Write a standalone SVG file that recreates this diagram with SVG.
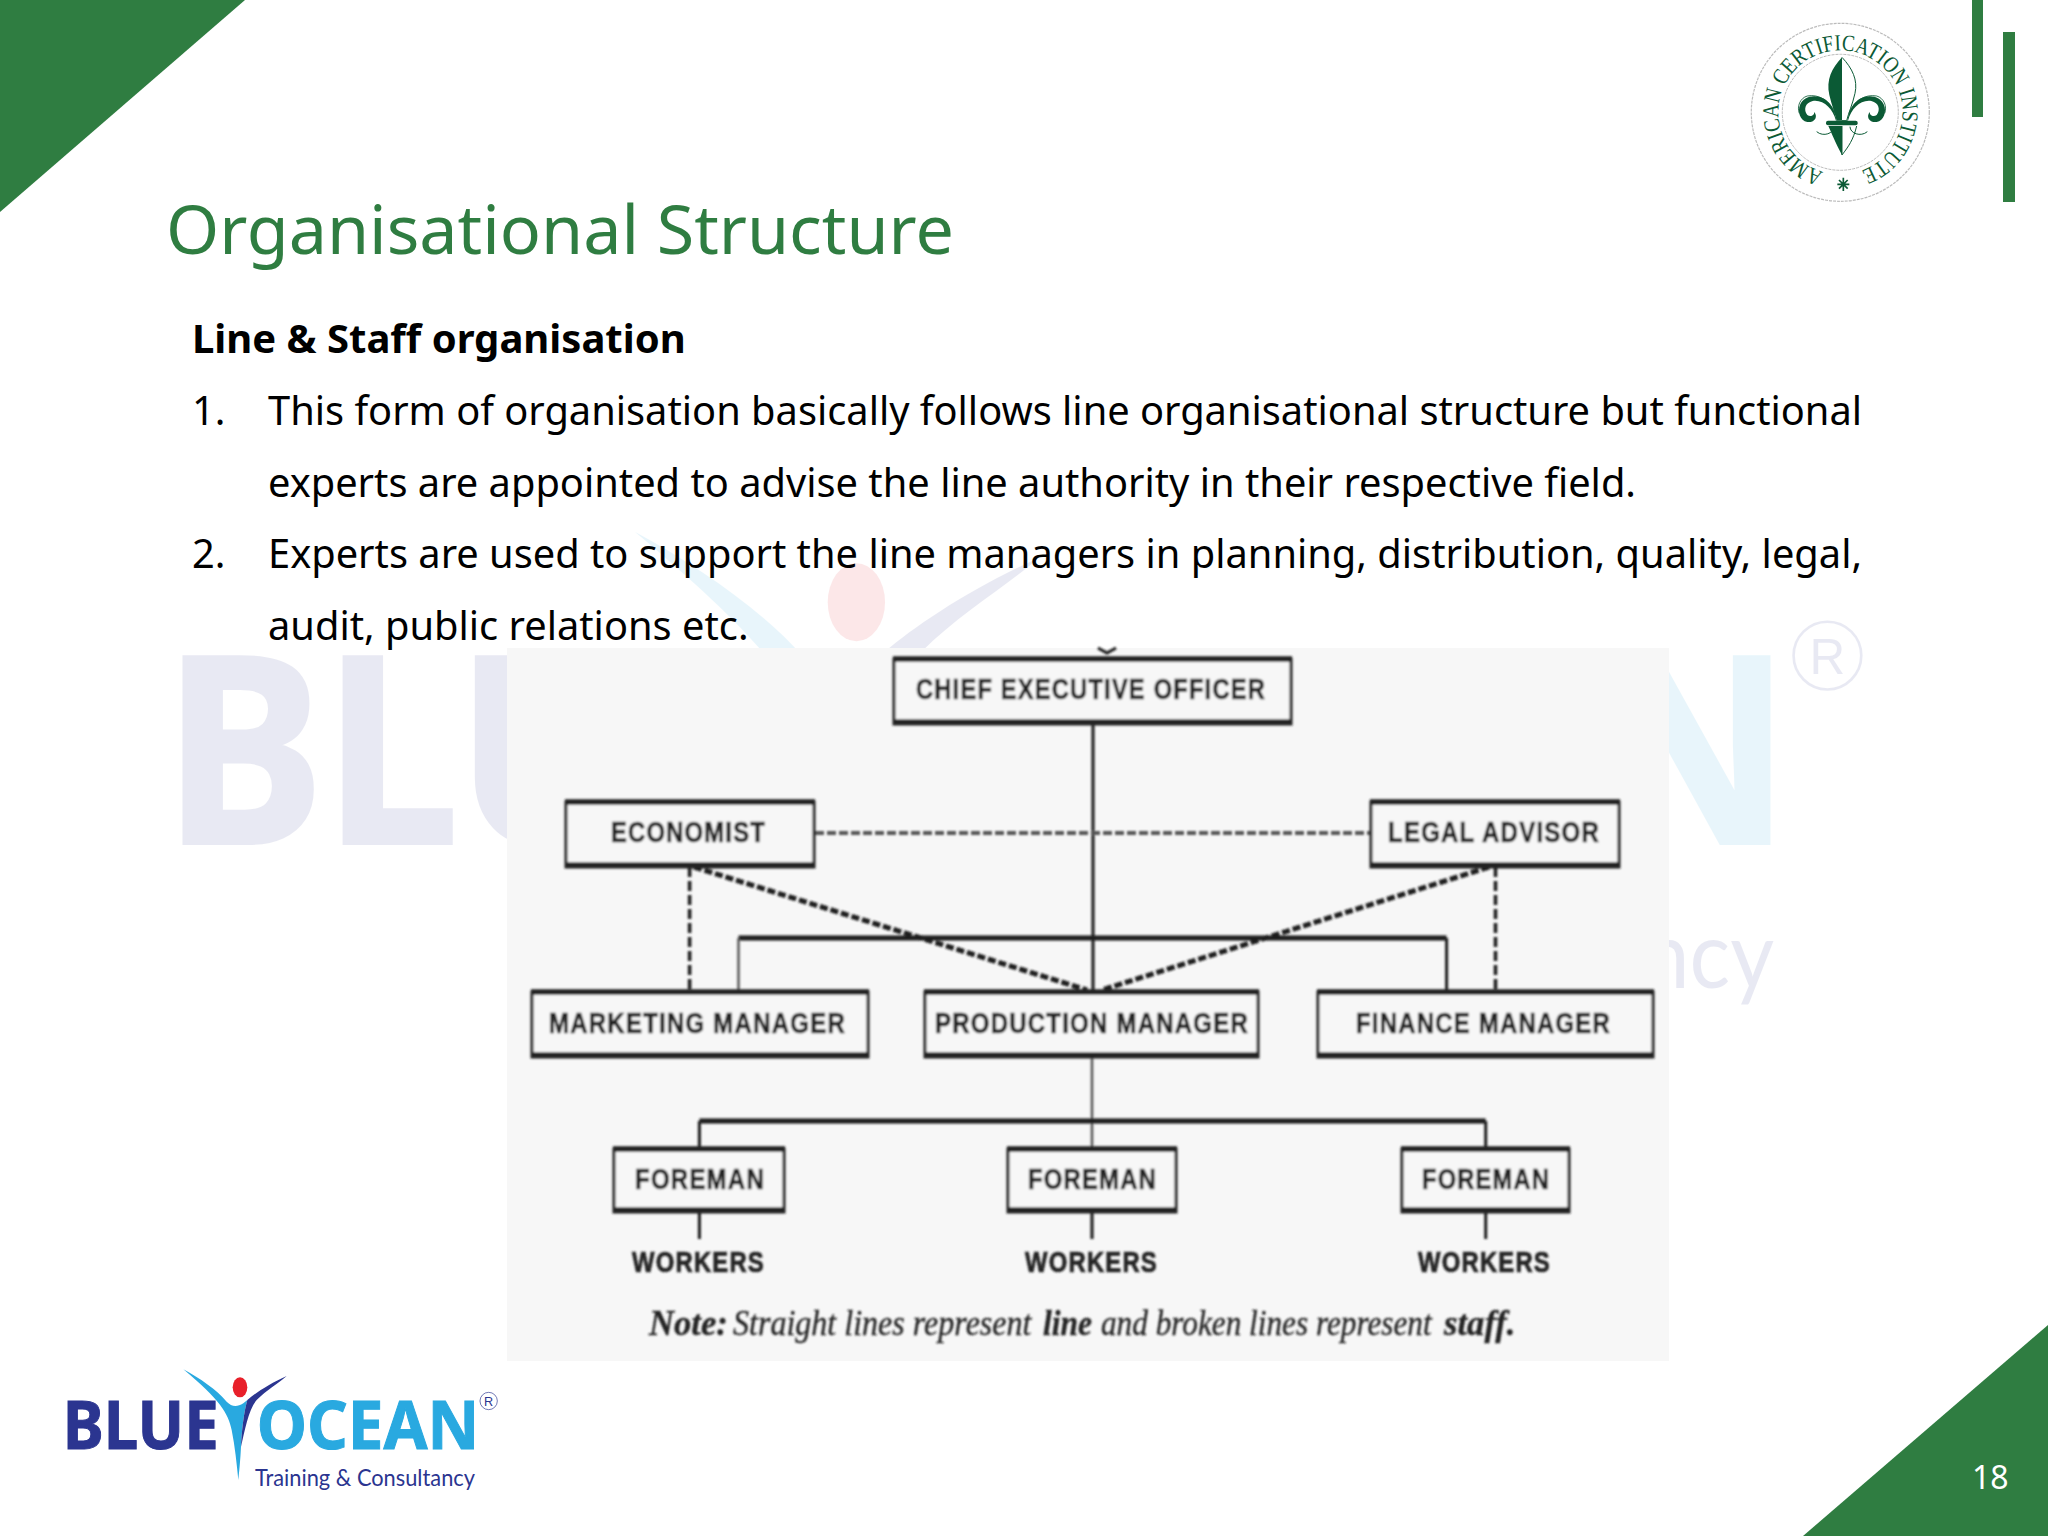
<svg xmlns="http://www.w3.org/2000/svg" xmlns:xlink="http://www.w3.org/1999/xlink" width="2048" height="1536" viewBox="0 0 2048 1536">
<style>
.g{fill:#2f7d41}
.title{font:400 68.2px "Noto Sans",sans-serif;fill:#2f7d41}
.body{font:400 39.8px "Noto Sans",sans-serif;fill:#000}
.b{font-weight:700;font-size:40px}
.box{fill:#f7f7f7;stroke:#222;stroke-width:3}
.thick{stroke:#222;stroke-width:5.5;fill:none}
.ln{stroke:#1c1c1c;stroke-width:3;fill:none}
.lng{stroke:#555;stroke-width:2.5;fill:none}
.lnw{stroke:#1c1c1c;stroke-width:5;fill:none}
.dash{stroke:#1c1c1c;stroke-width:3.5;fill:none;stroke-dasharray:10 4}
.dashd{stroke:#1c1c1c;stroke-width:5;fill:none;stroke-dasharray:8 3}
.dashh{stroke:#555;stroke-width:4;fill:none;stroke-dasharray:9 3}
.lab{font:700 29px "Liberation Sans",Arial,sans-serif;fill:#222;stroke:#222;stroke-width:0.7;letter-spacing:1.5px}
.note{font:italic 400 35px "Liberation Serif","Times New Roman",serif;fill:#222;stroke:#222;stroke-width:0.3}
.nb{font-weight:700}
.seal{fill:#0b5a35}
.fl{fill:none;stroke:#0b5a35}
</style>
<defs>
<filter id="soft" x="-2%" y="-2%" width="104%" height="104%"><feGaussianBlur stdDeviation="0.8"/></filter>
<path id="sealArc" d="M1823.2,171.9 A62,62 0 1 1 1860.5,171"/>
<g id="logoArt" transform="translate(40,1350) scale(0.33333)">
<text x="68" y="297" font-family="'Noto Sans',sans-serif" font-weight="700" font-size="200" textLength="468" lengthAdjust="spacingAndGlyphs" fill="#2b3590" stroke="#2b3590" stroke-width="3">BLUE</text>
<text x="650" y="297" font-family="'Noto Sans',sans-serif" font-weight="700" font-size="200" textLength="668" lengthAdjust="spacingAndGlyphs" fill="#29a9e0" stroke="#29a9e0" stroke-width="3">OCEAN</text>
<path fill="#29a9e0" d="M430,58C480,85 530,120 560,155C575,170 590,172 610,160L622,150C612,185 605,240 603,290C601,330 598,360 595,390C590,340 585,290 575,240C565,190 540,150 430,58Z"/>
<path fill="#2b3590" d="M740,78C690,100 645,130 622,150C612,185 605,240 603,290C615,240 625,180 650,150C680,120 715,100 740,78Z"/>
<ellipse cx="600" cy="112" rx="22" ry="30" fill="#e8202a"/>
<text x="645" y="408" font-family="Lato,sans-serif" font-size="72" textLength="660" lengthAdjust="spacingAndGlyphs" fill="#2b3590">Training &amp; Consultancy</text>
<circle cx="1346" cy="153" r="26" fill="none" stroke="#2b3590" stroke-width="2"/>
<text x="1346" y="167" text-anchor="middle" font-family="'Liberation Sans',Arial,sans-serif" font-size="38" fill="#2b3590">R</text>
</g>
</defs>
<rect width="2048" height="1536" fill="#fff"/>
<g id="decor">
<polygon class="g" points="0,0 245,0 0,212"/>
<polygon class="g" points="1803,1536 2048,1325 2048,1536"/>
<rect class="g" x="1972" y="0" width="11" height="117"/>
<rect class="g" x="2003" y="32" width="12" height="170"/>
</g>
<g id="watermark" opacity="0.1"><use href="#logoArt" transform="translate(-80.8,-4815.3) scale(3.905)"/></g>
<g id="seal">
<circle cx="1840.3" cy="112.3" r="89" fill="#fff" stroke="#bbb" stroke-width="1.2" stroke-dasharray="3 1"/>
<circle cx="1840.3" cy="112.3" r="58" fill="none" stroke="#bbb" stroke-width="1" stroke-dasharray="3 1"/>
<text font-family="'Liberation Serif','Times New Roman',serif" font-size="23" class="seal"><textPath href="#sealArc" textLength="350" lengthAdjust="spacingAndGlyphs">AMERICAN CERTIFICATION INSTITUTE</textPath></text>
<g transform="translate(1720,0) scale(0.33333)">
<path class="seal" d="M366,172C335,205 318,240 328,285C334,312 345,340 350,362L366,362Z"/>
<path class="fl" stroke-width="3" d="M366,172C397,205 414,240 405,280C398,312 385,340 380,362L366,362"/>
<path class="seal" d="M325,378C335,400 345,425 366,465L366,378Z"/>
<path class="fl" stroke-width="3" d="M366,378L366,465C385,440 400,420 410,378"/>
<rect class="seal" x="318" y="362" width="95" height="14" rx="6"/>
<g id="scroll">
<path class="seal" d="M348,362C338,325 310,298 278,303C255,308 250,330 262,345C272,352 285,345 282,335C295,350 285,368 262,366C240,362 232,335 240,315C250,290 285,280 315,298C335,312 345,335 350,362Z"/>
<path class="fl" stroke-width="2.5" d="M345,340C330,300 295,282 262,288C240,294 230,320 238,340"/>
<path class="fl" stroke-width="3" d="M342,380C342,400 310,412 290,395"/>
</g>
<use href="#scroll" transform="translate(732,0) scale(-1,1)"/>
<path class="fl" stroke-width="5" d="M370,533V573M352,553H388M357,540L383,566M383,540L357,566"/>
</g>
</g>
<g id="logo"><use href="#logoArt"/></g>
<text class="title" x="166" y="254">Organisational Structure</text>
<g id="text">
<text class="body b" x="192" y="353">Line &amp; Staff organisation</text>
<text class="body" x="192" y="425">1.</text>
<text class="body" x="268" y="425">This form of organisation basically follows line organisational structure but functional</text>
<text class="body" x="268" y="497">experts are appointed to advise the line authority in their respective field.</text>
<text class="body" x="192" y="568">2.</text>
<text class="body" x="268" y="568">Experts are used to support the line managers in planning, distribution, quality, legal,</text>
<text class="body" x="268" y="640">audit, public relations etc.</text>
</g>
<rect id="chartBg" x="507" y="648" width="1162" height="713" fill="#f7f7f7"/>
<g filter="url(#soft)">
<g id="connectors">
<path class="ln" d="M1093,724V990"/>
<path class="lnw" d="M738.5,938H1446.6"/>
<path class="lng" d="M738.5,938V990"/>
<path class="ln" d="M1446.6,938V990"/>
<path class="dashh" d="M815,833H1371"/>
<path class="dash" d="M689.6,867V990M1495.5,867V990"/>
<path class="dashd" d="M694,867L1087,990M1489,867L1102,990"/>
<path class="lng" d="M1092,1057V1148"/>
<path class="lnw" d="M699.4,1121H1485.7"/>
<path class="ln" d="M699.4,1121V1148M1485.7,1121V1148"/>
<path class="ln" d="M699.4,1212V1239M1092,1212V1239M1485.7,1212V1239"/>
<path class="ln" d="M1098,648L1107,653L1116,648"/>
</g>
<g id="ceo"><rect class="box" x="894" y="659" width="397" height="65"/><path class="thick" d="M893,659H1292M893,722H1292"/><text class="lab" x="916" y="699" textLength="350" lengthAdjust="spacingAndGlyphs">CHIEF EXECUTIVE OFFICER</text></g>
<g id="economist"><rect class="box" x="566" y="802" width="248" height="65"/><path class="thick" d="M565,802H815M565,865H815"/><text class="lab" x="611" y="842" textLength="155" lengthAdjust="spacingAndGlyphs">ECONOMIST</text></g>
<g id="legal"><rect class="box" x="1371" y="802" width="248" height="65"/><path class="thick" d="M1370,802H1620M1370,865H1620"/><text class="lab" x="1388" y="842" textLength="212" lengthAdjust="spacingAndGlyphs">LEGAL ADVISOR</text></g>
<g id="marketing"><rect class="box" x="532" y="992" width="336" height="65"/><path class="thick" d="M531,992H869M531,1055H869"/><text class="lab" x="549" y="1033" textLength="297" lengthAdjust="spacingAndGlyphs">MARKETING MANAGER</text></g>
<g id="production"><rect class="box" x="925" y="992" width="333" height="65"/><path class="thick" d="M924,992H1259M924,1055H1259"/><text class="lab" x="935" y="1033" textLength="314" lengthAdjust="spacingAndGlyphs">PRODUCTION MANAGER</text></g>
<g id="finance"><rect class="box" x="1318" y="992" width="335" height="65"/><path class="thick" d="M1317,992H1654M1317,1055H1654"/><text class="lab" x="1356" y="1033" textLength="255" lengthAdjust="spacingAndGlyphs">FINANCE MANAGER</text></g>
<g id="foreman1"><rect class="box" x="614" y="1149" width="170" height="63"/><path class="thick" d="M613,1149H785M613,1210H785"/><text class="lab" x="635" y="1189" textLength="130" lengthAdjust="spacingAndGlyphs">FOREMAN</text></g>
<g id="foreman2"><rect class="box" x="1008" y="1149" width="168" height="63"/><path class="thick" d="M1007,1149H1177M1007,1210H1177"/><text class="lab" x="1028" y="1189" textLength="129" lengthAdjust="spacingAndGlyphs">FOREMAN</text></g>
<g id="foreman3"><rect class="box" x="1402" y="1149" width="167" height="63"/><path class="thick" d="M1401,1149H1570M1401,1210H1570"/><text class="lab" x="1422" y="1189" textLength="128" lengthAdjust="spacingAndGlyphs">FOREMAN</text></g>
<text class="lab" x="632" y="1272" textLength="133" lengthAdjust="spacingAndGlyphs">WORKERS</text>
<text class="lab" x="1025" y="1272" textLength="133" lengthAdjust="spacingAndGlyphs">WORKERS</text>
<text class="lab" x="1418" y="1272" textLength="133" lengthAdjust="spacingAndGlyphs">WORKERS</text>
<g id="note">
<text class="note nb" transform="translate(649,1335) scale(0.99,1)">Note:</text>
<text class="note" transform="translate(733,1335) scale(0.916,1)">Straight lines represent</text>
<text class="note nb" transform="translate(1043,1335) scale(0.9,1)">line</text>
<text class="note" transform="translate(1101,1335) scale(0.893,1)">and broken lines represent</text>
<text class="note nb" transform="translate(1444,1335) scale(0.99,1)">staff.</text>
</g>
</g>
<text id="page" x="1972" y="1489" font-family="'Noto Sans',sans-serif" font-size="32" fill="#fff">18</text>
</svg>
